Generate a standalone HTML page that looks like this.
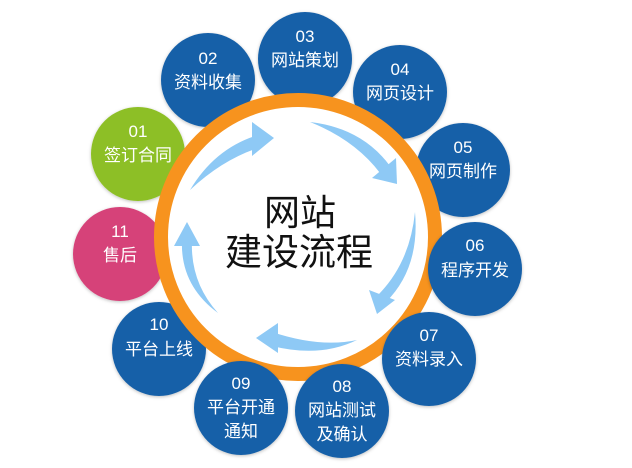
<!DOCTYPE html>
<html><head><meta charset="utf-8"><style>
html,body{margin:0;padding:0;background:#fff;}
svg{display:block;}
text{font-family:"Liberation Sans","Noto Sans CJK SC",sans-serif;fill:#fff;text-anchor:middle;}
</style></head><body>
<svg width="632" height="468" viewBox="0 0 632 468">
<defs>
<filter id="sh" x="-20%" y="-20%" width="140%" height="140%"><feDropShadow dx="0" dy="1" stdDeviation="1.5" flood-color="#000" flood-opacity="0.25"/></filter>
</defs>
<g filter="url(#sh)">
<circle cx="208" cy="80" r="47" fill="#1760a8"/>
<circle cx="305" cy="59" r="47" fill="#1760a8"/>
<circle cx="400" cy="92" r="47" fill="#1760a8"/>
<circle cx="463" cy="170" r="47" fill="#1760a8"/>
<circle cx="138" cy="154" r="47" fill="#8dbf25"/>
<circle cx="120" cy="254" r="47" fill="#d64379"/>
<circle cx="159" cy="349" r="47" fill="#1760a8"/>
</g>
<circle cx="298" cy="237" r="137" fill="#fff" stroke="#f7931e" stroke-width="14"/>
<g filter="url(#sh)">
<circle cx="475" cy="269" r="47" fill="#1760a8"/>
<circle cx="429" cy="359" r="47" fill="#1760a8"/>
<circle cx="342" cy="411" r="47" fill="#1760a8"/>
<circle cx="241" cy="408" r="47" fill="#1760a8"/>
</g>
<g fill="#8ec9f5" stroke="none">
<path d="M190 190 Q215 148 258 135 L258 148 Q222 160 190 190 Z"/>
<polygon points="252,122 274,138 252,156"/>
<path d="M310 122 Q362 128 390 166 L380 173 Q355 140 310 122 Z"/>
<polygon points="372,178 397,184 396,158"/>
<path d="M415 212 Q420 268 386 302 L379 294 Q410 262 415 212 Z"/>
<polygon points="369,290 377,314 395,300"/>
<path d="M357 340 Q320 358 272 346 L272 332 Q320 348 357 340 Z"/>
<polygon points="278,323 256,338 278,353"/>
<path d="M218 313 Q180 285 182 240 L192 240 Q190 282 218 313 Z"/>
<polygon points="174,246 187,222 200,246"/>
</g>
<text x="300" y="225" font-size="36" style="fill:#111">网站</text>
<text x="299" y="265" font-size="37" style="fill:#111">建设流程</text>
<g font-size="17">
<text x="208" y="64">02</text><text x="208" y="88">资料收集</text>
<text x="305" y="42">03</text><text x="305" y="66">网站策划</text>
<text x="400" y="75">04</text><text x="400" y="99">网页设计</text>
<text x="463" y="153">05</text><text x="463" y="177">网页制作</text>
<text x="138" y="137">01</text><text x="138" y="161">签订合同</text>
<text x="120" y="237">11</text><text x="120" y="261">售后</text>
<text x="159" y="330">10</text><text x="159" y="355">平台上线</text>
<text x="475" y="251">06</text><text x="475" y="276">程序开发</text>
<text x="429" y="341">07</text><text x="429" y="365">资料录入</text>
<text x="342" y="392">08</text><text x="342" y="416">网站测试</text><text x="342" y="440">及确认</text>
<text x="241" y="389">09</text><text x="241" y="413">平台开通</text><text x="241" y="437">通知</text>
</g>
</svg>
</body></html>
